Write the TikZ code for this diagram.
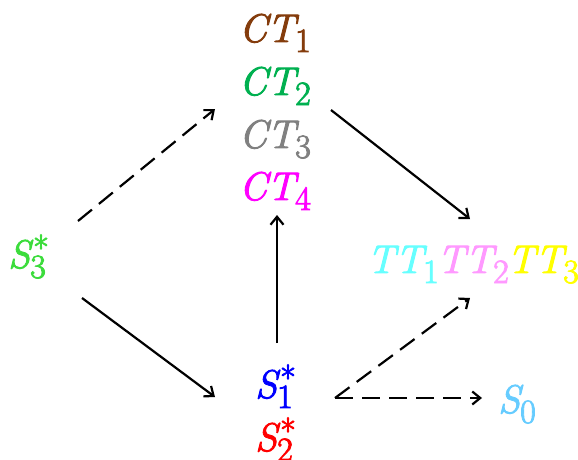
\documentclass[tikz,border=0pt]{standalone}
\usetikzlibrary{arrows.meta}

\definecolor{ctone}{RGB}{132,60,12}
\definecolor{cttwo}{RGB}{0,176,80}
\definecolor{ctthree}{RGB}{128,128,128}
\definecolor{ctfour}{RGB}{255,0,255}
\definecolor{sthree}{RGB}{60,220,60}
\definecolor{sone}{RGB}{0,0,255}
\definecolor{stwo}{RGB}{255,0,0}
\definecolor{ttone}{RGB}{102,255,255}
\definecolor{tttwo}{RGB}{255,153,255}
\definecolor{ttthree}{RGB}{255,255,0}
\definecolor{szero}{RGB}{102,204,255}

% lowered index, and a lowered index with a raised star above it
\newcommand{\idxfont}{\fontsize{34}{36}\selectfont\upshape}
\newcommand{\lowidx}[1]{\raisebox{-0.25em}{\idxfont #1}}
\newcommand{\bothidx}[2]{\makebox[0pt][l]{\hspace{3pt}\raisebox{0.2em}{\idxfont #2}}\raisebox{-0.25em}{\idxfont #1}}
% slightly heavier glyphs: fill and stroke the outlines
\newcommand{\heavy}[1]{\special{pdf:literal direct 2 Tr 0.9 w}#1\special{pdf:literal direct 0 Tr}}

\tikzset{
  state/.style={inner sep=0pt, anchor=base west, font=\fontsize{40}{48}\selectfont\itshape},
  link/.style={line width=2.2pt, -{Straight Barb[length=8pt,width=13pt]}},
  dashlink/.style={link, dash pattern=on 18pt off 9pt},
}

\begin{document}
\begin{tikzpicture}[x=1pt,y=-1pt]
  \useasboundingbox (0,0) rectangle (578,460);

  % column of CT states
  \node[state, text=ctone]   (ct1) at (239,42)  {\heavy{CT\lowidx{1}}};
  \node[state, text=cttwo]   (ct2) at (239,95)  {\heavy{CT\lowidx{2}}};
  \node[state, text=ctthree] (ct3) at (239,148) {\heavy{CT\lowidx{3}}};
  \node[state, text=ctfour]  (ct4) at (239,200) {\heavy{CT\lowidx{4}}};

  % singlet states and ground state
  \node[state, text=sthree] (s3) at (8,268)  {\heavy{S\bothidx{3}{*}}};
  \node[state, text=sone]   (s1) at (255,398) {\heavy{S\bothidx{1}{*}}};
  \node[state, text=stwo]   (s2) at (255,451) {\heavy{S\bothidx{2}{*}}};
  \node[state, text=szero]  (s0) at (498,413) {\heavy{S\lowidx{0}}};

  % TT states in one row
  \node[state, text=ttone]   (tt1) at (367,273) {\heavy{TT\lowidx{1}}};
  \node[state, text=tttwo]   (tt2) at ([xshift=-2pt]tt1.base east) {\heavy{TT\lowidx{2}}};
  \node[state, text=ttthree] (tt3) at ([xshift=-2pt]tt2.base east) {\heavy{TT\lowidx{3}}};

  % connector ends
  \coordinate (s3up)   at (78,221);
  \coordinate (ctin)   at (215,109);
  \coordinate (s3down) at (82,298);
  \coordinate (s1in)   at (215,397);
  \coordinate (s1top)  at (277,343);
  \coordinate (ct4in)  at (277,215);
  \coordinate (ctout)  at (331,110);
  \coordinate (ttin)   at (470,219);
  \coordinate (s1out)  at (335,398);
  \coordinate (ttlow)  at (470,298);
  \coordinate (s0in)   at (482,398);

  \draw[dashlink] (s3up) -- (ctin);
  \draw[link] (s3down) -- (s1in);
  \draw[link] (s1top) -- (ct4in);
  \draw[link] (ctout) -- (ttin);
  \draw[dashlink] (s1out) -- (ttlow);
  \draw[dashlink] (s1out) -- (s0in);
\end{tikzpicture}
\end{document}
